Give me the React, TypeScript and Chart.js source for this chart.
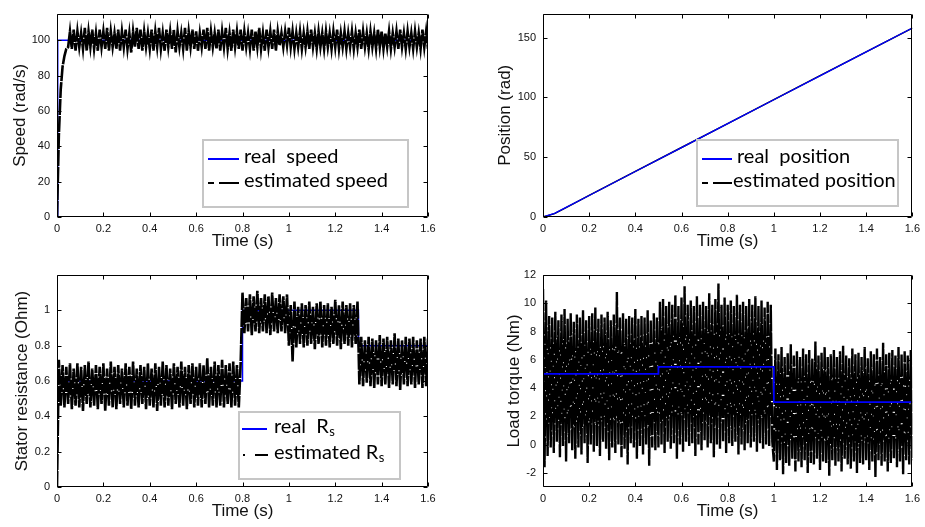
import React, { useEffect, useRef } from "react";
import { Chart, registerables } from "chart.js";

Chart.register(...registerables);

// ---------- tick labels ----------
const timeTicks = [0, 0.2, 0.4, 0.6, 0.8, 1, 1.2, 1.4, 1.6];
const speedTicks = [0, 20, 40, 60, 80, 100];
const positionTicks = [0, 50, 100, 150];
const rsTicks = [0, 0.2, 0.4, 0.6, 0.8, 1];
const torqueTicks = [-2, 0, 2, 4, 6, 8, 10, 12];

// ---------- speed ----------
const speedRealT = [0, 0.003, 1.6];
const speedRealV = [0, 100, 100];
const speedEstDt = 0.008;
const speedEst = [
  0, 46, 72, 85, 91, 95,
  96, 105, 95, 106, 94, 105, 96, 104, 95, 107, 94, 105, 96, 106, 95, 104, 94, 106, 96, 105,
  95, 107, 94, 105, 96, 104, 95, 106, 94, 105, 96, 106, 95, 104, 93, 105, 96, 107, 95, 106,
  94, 105, 96, 104, 95, 106, 94, 105, 96, 107, 95, 104, 94, 106, 96, 105, 95, 106, 93, 105,
  96, 104, 95, 107, 94, 105, 96, 106, 95, 105, 94, 104, 96, 106, 95, 107, 94, 105, 96, 104,
  95, 106, 94, 105, 96, 107, 95, 104, 94, 106, 96, 105, 95, 106, 94, 105, 96, 104, 95, 106,
  94, 105, 96, 107, 95, 104, 94, 106, 96, 105, 95, 106, 94, 105, 97, 104, 96, 105, 97,
  107,
  96, 105, 95, 104, 96, 105, 95, 104, 96, 105, 95, 106, 96, 104, 95, 105, 96, 104, 95, 105,
  96, 104, 95, 105, 96, 106, 95, 104, 96, 105, 95, 104, 96, 105, 95, 104, 96, 106, 95, 105,
  96, 104, 95, 105, 96, 104, 95, 106, 96, 105, 95, 104, 96, 105, 95, 104, 96, 105, 95, 106,
  96, 104, 95, 105, 96, 104, 95, 105, 96, 104, 95, 106, 96, 105, 95,
];

// ---------- position ----------
const positionT = [0, 0.05, 0.1, 0.2, 0.4, 0.6, 0.8, 1.0, 1.2, 1.4, 1.6];
const positionReal = [0, 3, 8, 18, 38, 58, 78, 98, 118, 138, 158];
const positionEst = [0, 2.8, 7.9, 18.1, 38.2, 58.1, 78.0, 98.1, 118.1, 138.0, 157.9];

// ---------- stator resistance ----------
const rsRealT = [0, 0.8, 0.8, 1.3, 1.3, 1.6];
const rsRealV = [0.6, 0.6, 1.0, 1.0, 0.8, 0.8];
const rsEstDt = 0.008;
const rsEst = [
  0,
  0.72, 0.46, 0.69, 0.45, 0.68, 0.47, 0.70, 0.44, 0.67, 0.46, 0.70, 0.45, 0.68, 0.43, 0.69, 0.47, 0.71, 0.45, 0.67, 0.46,
  0.69, 0.44, 0.68, 0.47, 0.70, 0.43, 0.67, 0.46, 0.71, 0.45, 0.68, 0.44, 0.69, 0.47, 0.67, 0.45, 0.70, 0.46, 0.68, 0.44,
  0.71, 0.46, 0.67, 0.45, 0.69, 0.47, 0.68, 0.44, 0.70, 0.46, 0.67, 0.45, 0.70, 0.43, 0.68, 0.46, 0.71, 0.45, 0.69, 0.46,
  0.67, 0.44, 0.70, 0.47, 0.68, 0.45, 0.71, 0.46, 0.68, 0.44, 0.69, 0.47, 0.70, 0.45, 0.68, 0.46, 0.70, 0.45, 0.69, 0.47,
  0.73, 0.45, 0.68, 0.46, 0.71, 0.45, 0.69, 0.46, 0.72, 0.45, 0.69, 0.47, 0.70, 0.45, 0.71, 0.46, 0.69, 0.45, 0.70,
  1.10, 0.87, 1.07, 0.88, 1.09, 0.86, 1.08, 0.88, 1.11, 0.87, 1.07, 0.88, 1.09, 0.87, 1.08, 0.86, 1.10, 0.88, 1.07, 0.87,
  1.09, 0.88, 1.08, 0.87, 1.09,
  0.80, 1.03, 0.71, 1.05, 0.79, 1.02, 0.81, 1.04, 0.79, 1.03, 0.80, 1.05, 0.81, 1.02, 0.78, 1.04, 0.81, 1.05, 0.79, 1.03,
  0.80, 1.04, 0.79, 1.02, 0.81, 1.06, 0.80, 1.03, 0.78, 1.05, 0.81, 1.03, 0.80, 1.04, 0.79, 1.03, 0.81, 1.05,
  0.58, 0.85, 0.57, 0.83, 0.59, 0.85, 0.57, 0.84, 0.56, 0.83, 0.58, 0.86, 0.57, 0.84, 0.58, 0.85, 0.56, 0.83, 0.58, 0.87,
  0.57, 0.84, 0.55, 0.83, 0.58, 0.85, 0.57, 0.84, 0.58, 0.85, 0.56, 0.83, 0.58, 0.84, 0.56, 0.85, 0.57, 0.84,
];

// ---------- load torque ----------
const torqueRealT = [0, 0.5, 0.5, 1.0, 1.0, 1.6];
const torqueRealV = [5, 5, 5.5, 5.5, 3, 3];
const torqueEstDt = 1.6 / 240;
const torqueEst = [
  11,
  -1.6, 10.2, -0.8, 9.1, -0.2, 9.0, -0.6, 9.4, 0.2, 8.8, -0.9, 9.2, -0.1, 9.6, -1.2, 8.9, 0.1, 9.3, -0.4, 8.7,
  -1.0, 9.2, -0.2, 9.0, -0.7, 9.5, 0.1, 8.8, -1.3, 9.1, 0.0, 9.3, -0.5, 9.7, -0.1, 8.9, -0.8, 9.2, 0.2, 9.0,
  -0.3, 9.4, -1.1, 8.8, -0.2, 9.2, -0.6, 10.8, 0.0, 9.0, -0.9, 9.3, -0.3, 8.9, -1.4, 9.1, 0.1, 9.0, -0.2, 9.6,
  -1.0, 8.9, -0.1, 9.1, -0.7, 9.0, 0.0, 9.5, -1.5, 8.8, -0.2, 9.3, -0.4, 9.0,
  -0.2, 10.1, 0.0, 10.3, -0.6, 9.8, 0.2, 10.1, -0.3, 9.9, 0.1, 10.6, -1.0, 9.8, 0.0, 10.4, -0.5, 11.2, 0.2, 9.9,
  -0.1, 10.2, 0.1, 9.8, -0.8, 10.5, 0.0, 9.9, -0.4, 10.1, 0.3, 9.8, -0.2, 10.7, 0.1, 9.9, -0.9, 10.3, 0.0, 11.4,
  -0.3, 9.9, 0.2, 10.4, -0.6, 9.9, 0.1, 10.2, -0.1, 9.8, 0.2, 10.6, -0.7, 9.9, 0.0, 10.1, -0.4, 9.8, 0.1, 10.3,
  -0.2, 9.9, 0.2, 10.5, -0.5, 9.8, 0.1, 10.2, -0.3, 9.7, 0.0, 10.1, -0.1, 9.9, 0.2,
  -1.2, 6.8, -1.8, 6.4, -1.1, 6.9, -2.1, 6.2, -1.3, 6.5, -1.5, 7.1, -1.0, 6.3, -1.9, 6.6, -1.2, 6.2, -1.6, 6.8,
  -1.1, 6.4, -2.0, 6.7, -1.3, 6.1, -1.4, 7.3, -1.0, 6.3, -1.8, 6.5, -1.2, 6.9, -1.3, 6.2, -2.2, 6.4, -1.1, 6.7,
  -1.5, 6.2, -1.2, 6.6, -1.9, 7.0, -1.0, 6.3, -1.4, 6.1, -1.7, 6.8, -1.2, 6.4, -2.0, 6.5, -1.3, 6.2, -1.4, 6.9,
  -1.1, 6.1, -1.8, 6.6, -1.2, 6.4, -2.3, 6.8, -1.1, 6.2, -1.5, 7.2, -1.2, 6.4, -1.9, 6.5, -1.3, 6.7, -1.0, 6.3,
  -1.6, 6.9, -1.2, 6.4, -2.1, 6.6, -1.1, 6.3, -1.4, 6.7, -1.1,
];

// ---------- helpers ----------
const paired = (ts: number[], vs: number[]) => vs.map((v, i) => ({ x: ts[i], y: v }));
const sampled = (dt: number, vs: number[]) => vs.map((v, i) => ({ x: i * dt, y: v }));

const AXIS_FONT = "'Liberation Sans', Arial, Helvetica, sans-serif";
const LEGEND_FONT = "Lato, 'Open Sans', sans-serif";

type LegendItem = {
  kind: "solid" | "dash" | "dotdash";
  color: string;
  y: number;
  x0: number;
  x1: number;
  tx: number;
  text: string;
  sub?: string;
};
type LegendSpec = { x: number; y: number; w: number; h: number; items: LegendItem[] } | null;

const framePlugin = {
  id: "frameTicks",
  afterDatasetsDraw(chart: any) {
    const { ctx, chartArea } = chart;
    const { left, right, top, bottom } = chartArea;
    const xs = chart.scales.x;
    const ys = chart.scales.y;
    ctx.save();
    ctx.strokeStyle = "#000";
    ctx.lineWidth = 1;
    const L = Math.round(left) + 0.5;
    const R = Math.round(right) - 0.5;
    const T = Math.round(top) + 0.5;
    const B = Math.round(bottom) - 0.5;
    ctx.beginPath();
    ctx.rect(L, T, R - L, B - T);
    ctx.stroke();
    const tl = 4;
    ctx.beginPath();
    xs.ticks.forEach((t: any) => {
      const px = Math.round(xs.getPixelForValue(t.value)) + 0.5;
      ctx.moveTo(px, B);
      ctx.lineTo(px, B - tl);
      ctx.moveTo(px, T);
      ctx.lineTo(px, T + tl);
    });
    ys.ticks.forEach((t: any) => {
      const py = Math.round(ys.getPixelForValue(t.value)) + 0.5;
      ctx.moveTo(L, py);
      ctx.lineTo(L + tl, py);
      ctx.moveTo(R, py);
      ctx.lineTo(R - tl, py);
    });
    ctx.stroke();
    ctx.restore();
  },
};

const makeLegendPlugin = (spec: LegendSpec) => ({
  id: "boxLegend",
  afterDraw(chart: any) {
    if (!spec) return;
    const ctx = chart.ctx;
    ctx.save();
    ctx.fillStyle = "#fff";
    ctx.fillRect(spec.x, spec.y, spec.w, spec.h);
    ctx.strokeStyle = "#c6c6c6";
    ctx.lineWidth = 2;
    ctx.strokeRect(spec.x, spec.y, spec.w, spec.h);
    spec.items.forEach((it) => {
      ctx.strokeStyle = it.color;
      ctx.lineWidth = 2;
      ctx.beginPath();
      if (it.kind === "solid") {
        ctx.moveTo(it.x0, it.y);
        ctx.lineTo(it.x1, it.y);
      } else if (it.kind === "dash") {
        const mid = it.x0 + 6;
        ctx.moveTo(it.x0, it.y);
        ctx.lineTo(mid, it.y);
        ctx.moveTo(mid + 5, it.y);
        ctx.lineTo(it.x1, it.y);
      } else {
        ctx.moveTo(it.x0, it.y);
        ctx.lineTo(it.x0 + 2, it.y);
        ctx.moveTo(it.x0 + 12, it.y);
        ctx.lineTo(it.x1, it.y);
      }
      ctx.stroke();
      ctx.fillStyle = "#000";
      ctx.textBaseline = "middle";
      ctx.textAlign = "left";
      ctx.font = `20px ${LEGEND_FONT}`;
      ctx.fillText(it.text, it.tx, it.y - 2);
      if (it.sub) {
        const w = ctx.measureText(it.text).width;
        ctx.font = `13px ${LEGEND_FONT}`;
        ctx.fillText(it.sub, it.tx + w + 0.5, it.y + 3);
      }
    });
    ctx.restore();
  },
});

type PanelSpec = {
  datasets: any[];
  yMin: number;
  yMax: number;
  yTicks: number[];
  yTitle: string;
  yAxisWidth: number;
  xAxisHeight: number;
  padTop: number;
  padRight: number;
  yTitlePad: number;
  xTitlePad: number;
  legend: LegendSpec;
};

function Panel({ spec, box }: { spec: PanelSpec; box: { left: number; top: number; width: number; height: number } }) {
  const ref = useRef<HTMLCanvasElement>(null);
  useEffect(() => {
    const chart = new Chart(ref.current as HTMLCanvasElement, {
      type: "line",
      data: { datasets: spec.datasets },
      options: {
        animation: false,
        responsive: true,
        maintainAspectRatio: false,
        devicePixelRatio: 1,
        events: [],
        layout: { padding: { left: 0, top: spec.padTop, right: spec.padRight, bottom: 0 } },
        elements: { point: { radius: 0 }, line: { tension: 0 } },
        plugins: { legend: { display: false }, tooltip: { enabled: false }, title: { display: false } },
        scales: {
          x: {
            type: "linear",
            min: 0,
            max: 1.6,
            grid: { display: false, drawTicks: false },
            border: { display: false },
            afterBuildTicks: (s: any) => {
              s.ticks = timeTicks.map((v) => ({ value: v }));
            },
            afterFit: (s: any) => {
              s.height = spec.xAxisHeight;
            },
            ticks: {
              autoSkip: false,
              maxRotation: 0,
              padding: 5,
              color: "#111",
              font: { family: AXIS_FONT, size: 11 },
              callback: (v: any) => String(v),
            },
            title: {
              display: true,
              text: "Time (s)",
              color: "#111",
              font: { family: AXIS_FONT, size: 17, lineHeight: 1.2 },
              padding: { top: 0, bottom: spec.xTitlePad },
            },
          },
          y: {
            type: "linear",
            min: spec.yMin,
            max: spec.yMax,
            grid: { display: false, drawTicks: false },
            border: { display: false },
            afterBuildTicks: (s: any) => {
              s.ticks = spec.yTicks.map((v) => ({ value: v }));
            },
            afterFit: (s: any) => {
              s.width = spec.yAxisWidth;
            },
            ticks: {
              autoSkip: false,
              padding: 7,
              color: "#111",
              font: { family: AXIS_FONT, size: 11 },
              callback: (v: any) => String(v),
            },
            title: {
              display: true,
              text: spec.yTitle,
              color: "#111",
              font: { family: AXIS_FONT, size: 17, lineHeight: 1.2 },
              padding: { top: spec.yTitlePad, bottom: 0 },
            },
          },
        },
      },
      plugins: [framePlugin, makeLegendPlugin(spec.legend)],
    } as any);
    return () => chart.destroy();
  }, []);
  return (
    <div style={{ position: "absolute", left: box.left, top: box.top, width: box.width, height: box.height }}>
      <canvas ref={ref} />
    </div>
  );
}

const blue = "#0000ff";
const black = "#000000";

const speedSpec: PanelSpec = {
  datasets: [
    { data: sampled(speedEstDt, speedEst), borderColor: black, borderWidth: 2.6, borderDash: [16, 1], order: 0, parsing: false },
    { data: paired(speedRealT, speedRealV), borderColor: blue, borderWidth: 1.5, order: 1, parsing: false },
  ],
  yMin: 0,
  yMax: 115,
  yTicks: speedTicks,
  yTitle: "Speed (rad/s)",
  yAxisWidth: 57,
  xAxisHeight: 43,
  padTop: 6,
  padRight: 32,
  yTitlePad: 10,
  xTitlePad: 8,
  legend: {
    x: 203,
    y: 140,
    w: 205,
    h: 67,
    items: [
      { kind: "solid", color: blue, y: 159, x0: 208, x1: 239, tx: 244, text: "real  speed" },
      { kind: "dash", color: black, y: 183, x0: 208, x1: 239, tx: 244, text: "estimated speed" },
    ],
  },
};

const positionSpec: PanelSpec = {
  datasets: [
    { data: paired(positionT, positionReal), borderColor: blue, borderWidth: 1.3, order: 0, parsing: false },
    { data: paired(positionT, positionEst), borderColor: black, borderWidth: 1.5, order: 1, parsing: false },
  ],
  yMin: 0,
  yMax: 170,
  yTicks: positionTicks,
  yTitle: "Position (rad)",
  yAxisWidth: 83,
  xAxisHeight: 43,
  padTop: 6,
  padRight: 12,
  yTitlePad: 35,
  xTitlePad: 8,
  legend: {
    x: 237,
    y: 140,
    w: 201,
    h: 66,
    items: [
      { kind: "solid", color: blue, y: 159, x0: 242, x1: 272, tx: 277, text: "real  position" },
      { kind: "dash", color: black, y: 183, x0: 242, x1: 272, tx: 273, text: "estimated position" },
    ],
  },
};

const rsSpec: PanelSpec = {
  datasets: [
    { data: sampled(rsEstDt, rsEst), borderColor: black, borderWidth: 2.6, borderDash: [16, 1], order: 0, parsing: false },
    { data: paired(rsRealT, rsRealV), borderColor: blue, borderWidth: 1.5, order: 1, parsing: false },
  ],
  yMin: 0,
  yMax: 1.2,
  yTicks: rsTicks,
  yTitle: "Stator resistance (Ohm)",
  yAxisWidth: 57,
  xAxisHeight: 40,
  padTop: 15,
  padRight: 32,
  yTitlePad: 12,
  xTitlePad: 5,
  legend: {
    x: 239,
    y: 152,
    w: 161,
    h: 67,
    items: [
      { kind: "solid", color: blue, y: 169, x0: 242, x1: 267, tx: 274, text: "real  R", sub: "s" },
      { kind: "dotdash", color: black, y: 195, x0: 243, x1: 268, tx: 274, text: "estimated R", sub: "s" },
    ],
  },
};

const torqueSpec: PanelSpec = {
  datasets: [
    { data: paired(torqueRealT, torqueRealV), borderColor: blue, borderWidth: 1.8, order: 0, parsing: false },
    { data: sampled(torqueEstDt, torqueEst), borderColor: black, borderWidth: 2.4, borderDash: [22, 1.2], order: 1, parsing: false },
  ],
  yMin: -3,
  yMax: 12,
  yTicks: torqueTicks,
  yTitle: "Load torque (Nm)",
  yAxisWidth: 83,
  xAxisHeight: 40,
  padTop: 15,
  padRight: 12,
  yTitlePad: 44,
  xTitlePad: 5,
  legend: null,
};

export default function App() {
  return (
    <div
      style={{
        position: "absolute",
        left: 0,
        top: 0,
        width: 925,
        height: 527,
        background: "#fff",
        overflow: "hidden",
      }}
    >
      <Panel spec={speedSpec} box={{ left: 0, top: 0, width: 460, height: 260 }} />
      <Panel spec={positionSpec} box={{ left: 460, top: 0, width: 465, height: 260 }} />
      <Panel spec={rsSpec} box={{ left: 0, top: 260, width: 460, height: 267 }} />
      <Panel spec={torqueSpec} box={{ left: 460, top: 260, width: 465, height: 267 }} />
    </div>
  );
}
